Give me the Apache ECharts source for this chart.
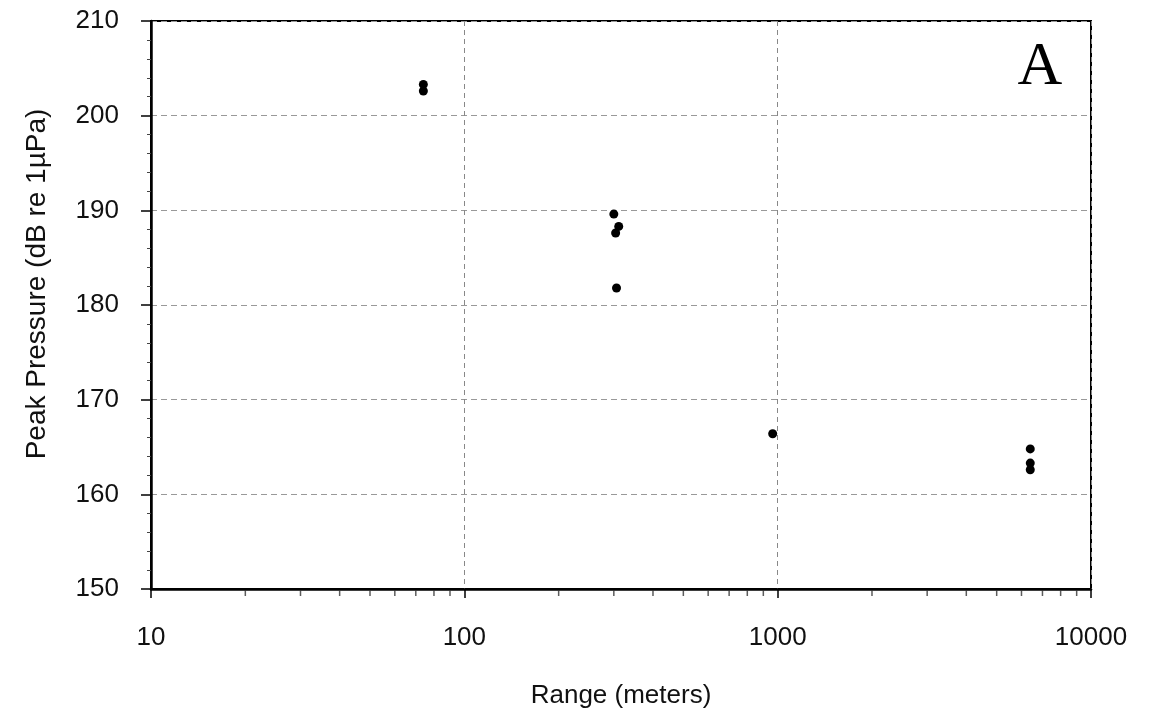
<!DOCTYPE html>
<html>
<head>
<meta charset="utf-8">
<script src="https://cdn.jsdelivr.net/npm/echarts@6/dist/echarts.min.js"></script>
<style>html,body{margin:0;padding:0;background:#fff;}#chart{width:1153px;height:721px;}</style>
</head>
<body>
<div id="chart"></div>
<script>
// Data
var rangeMeters = [74, 74, 300, 311, 304, 306, 964, 6400, 6400, 6400];
var peakPressure = [203.3, 202.6, 189.6, 188.3, 187.6, 181.8, 166.4, 164.8, 163.3, 162.6];
var xMinorTickValues = [20,30,40,50,60,70,80,90,200,300,400,500,600,700,800,900,2000,3000,4000,5000,6000,7000,8000,9000];
var xTitle = 'Range (meters)';
var yTitle = 'Peak Pressure (dB re 1µPa)';
var panelLabel = 'A';

var points = rangeMeters.map(function (r, i) { return [r, peakPressure[i]]; });
var minorPts = xMinorTickValues.map(function (v) { return [v, 150]; });

var chart = echarts.init(document.getElementById('chart'));
var font = 'Liberation Sans, Arial, sans-serif';
chart.setOption({
  animation: false,
  backgroundColor: '#fff',
  grid: { left: 151, right: 62, top: 21, bottom: 132, show: true, borderColor: '#000', borderWidth: 2, backgroundColor: 'transparent' },
  xAxis: {
    type: 'log', logBase: 10, min: 10, max: 10000,
    axisLine: { lineStyle: { color: '#000', width: 2.5 } },
    axisTick: { show: true, length: 9, lineStyle: { color: '#000', width: 1.5 } },
    axisLabel: { color: '#111', fontSize: 26, fontFamily: font, margin: 36,
      formatter: function (v) { return String(Math.round(v)); } },
    splitLine: { show: true, lineStyle: { color: '#888', type: [5, 4], width: 1 } },
    name: xTitle, nameLocation: 'middle', nameGap: 94,
    nameTextStyle: { color: '#111', fontSize: 26, fontFamily: font }
  },
  yAxis: {
    type: 'value', min: 150, max: 210, interval: 10,
    axisLine: { lineStyle: { color: '#000', width: 2.5 } },
    axisTick: { show: true, length: 10, lineStyle: { color: '#000', width: 1.5 } },
    minorTick: { show: true, splitNumber: 5, length: 4, lineStyle: { color: '#444', width: 1 } },
    axisLabel: { color: '#111', fontSize: 26, fontFamily: font, margin: 32 },
    splitLine: { show: true, lineStyle: { color: '#999', type: [6, 4], width: 1 } }
  },
  graphic: [
    { type: 'text', rotation: Math.PI / 2, x: 37, y: 284, style: { text: yTitle, fill: '#111', font: '28px ' + font, textAlign: 'center', textVerticalAlign: 'middle' } },
    { type: 'text', x: 1040, y: 68, style: { text: panelLabel, fill: '#000', font: '62px Liberation Serif, Times New Roman, serif', textAlign: 'center', textVerticalAlign: 'middle' } }
  ],
  series: [
    {
      type: 'scatter', data: minorPts, symbol: 'rect', symbolSize: [1.5, 6], symbolOffset: [0, 4],
      itemStyle: { color: '#333' }, silent: true, clip: false, z: 1
    },
    {
      type: 'scatter', data: points, symbol: 'circle', symbolSize: 9,
      itemStyle: { color: '#000', opacity: 1 }, z: 5
    }
  ]
});
</script>
</body>
</html>
